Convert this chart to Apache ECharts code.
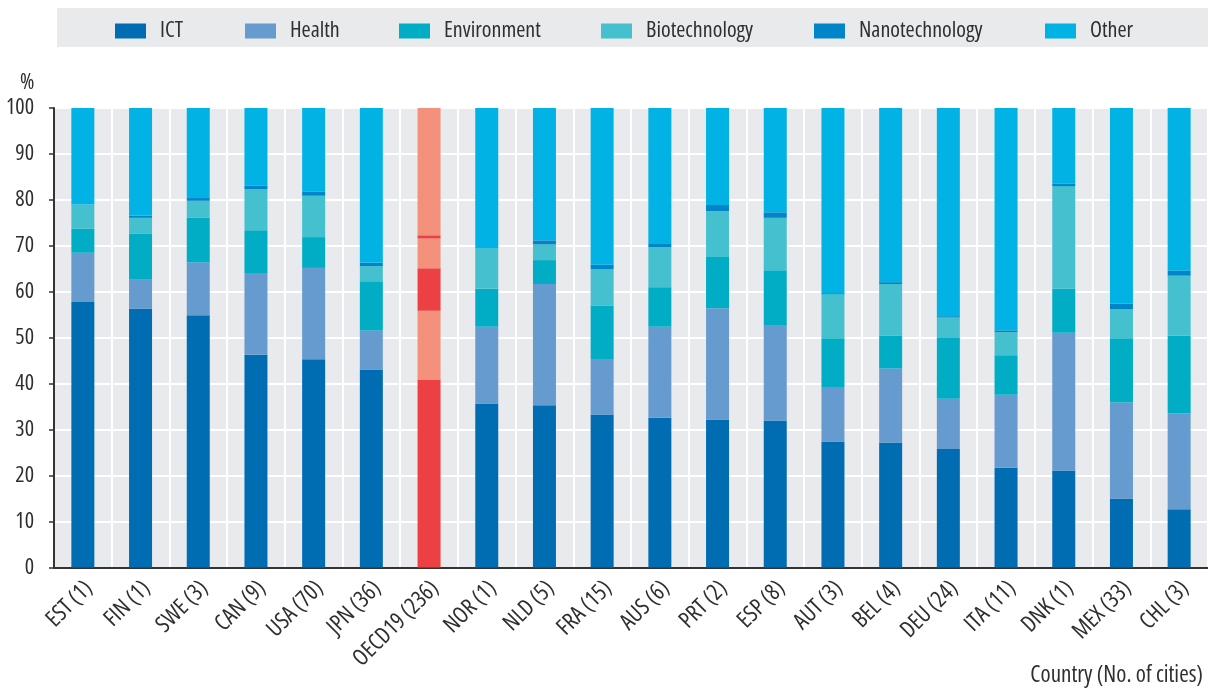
<!DOCTYPE html>
<html>
<head>
<meta charset="utf-8">
<script src="https://cdn.jsdelivr.net/npm/echarts@6/dist/echarts.min.js"></script>
<style>
  html, body { margin: 0; padding: 0; background: #fff; }
  #chart { width: 1208px; height: 690px; }
</style>
</head>
<body>
<div id="chart"></div>
<script>
var countries = ['EST (1)', 'FIN (1)', 'SWE (3)', 'CAN (9)', 'USA (70)', 'JPN (36)', 'OECD19 (236)',
    'NOR (1)', 'NLD (5)', 'FRA (15)', 'AUS (6)', 'PRT (2)', 'ESP (8)', 'AUT (3)', 'BEL (4)',
    'DEU (24)', 'ITA (11)', 'DNK (1)', 'MEX (33)', 'CHL (3)'];

var ict     = [57.8, 56.3, 54.9, 46.3, 45.3, 43.1, 40.9, 35.7, 35.3, 33.3, 32.6, 32.2, 32.0, 27.4, 27.2, 25.8, 21.7, 21.1, 15.0, 12.7];
var health  = [10.7, 6.3, 11.5, 17.8, 19.9, 8.5, 15.0, 16.7, 26.4, 11.9, 19.8, 24.2, 20.6, 11.9, 16.1, 10.9, 15.9, 30.0, 20.9, 20.8];
var env     = [5.2, 10.0, 9.7, 9.3, 6.7, 10.7, 9.2, 8.3, 5.2, 11.8, 8.6, 11.2, 12.1, 10.6, 7.2, 13.4, 8.6, 9.6, 14.0, 17.0];
var biotech = [5.3, 3.5, 3.7, 8.9, 9.0, 3.3, 6.5, 8.8, 3.4, 7.9, 8.7, 9.9, 11.4, 9.6, 11.2, 4.3, 5.0, 22.3, 6.3, 13.0];
var nano    = [0, 0.5, 0.6, 0.8, 0.9, 0.7, 0.7, 0, 0.9, 1.0, 0.7, 1.4, 1.2, 0.2, 0.4, 0.3, 0.4, 0.6, 1.2, 1.1];
var other   = [21.0, 23.4, 19.6, 16.9, 18.2, 33.7, 27.7, 30.5, 28.8, 34.1, 29.6, 21.1, 22.7, 40.3, 37.9, 45.3, 48.4, 16.4, 42.6, 35.4];

var seriesNames = ['ICT', 'Health', 'Environment', 'Biotechnology', 'Nanotechnology', 'Other'];
var seriesData = [ict, health, env, biotech, nano, other];
var colors = ['#006db2', '#669bcf', '#00adc4', '#45c0cf', '#0085c9', '#00b3e4'];
// OECD average bar is drawn in alternating reds
var oecdColors = ['#ec4043', '#f4917a', '#ec4043', '#f4917a', '#ec4043', '#f4917a'];
var oecdIndex = 6;
var legendLeft = [115, 245, 399, 601, 814, 1045];

var fontFamily = "'Open Sans'";
var fontStretch = 'condensed'; // goes into the canvas font string
var fontSize = 22;
var textColor = '#2f2f2f';

var myChart = echarts.init(document.getElementById('chart'));

var series = seriesNames.map(function (name, s) {
    return {
        name: name,
        type: 'bar',
        stack: 'total',
        barWidth: 23,
        itemStyle: { color: colors[s] },
        data: seriesData[s].map(function (v, i) {
            if (i === oecdIndex) {
                return { value: v, itemStyle: { color: oecdColors[s] } };
            }
            return v;
        })
    };
});

var legends = seriesNames.map(function (name, s) {
    return {
        left: legendLeft[s],
        top: 20,
        padding: 0,
        itemWidth: 31,
        itemHeight: 15,
        icon: 'rect',
        selectedMode: false,
        textStyle: { fontFamily: fontFamily, fontWeight: fontStretch, fontSize: fontSize, color: textColor, padding: [0, 0, 0, 9] },
        data: [name]
    };
});

var option = {
    animation: false,
    color: colors,
    graphic: [
        { type: 'rect', z: -10, shape: { x: 57, y: 8, width: 1151, height: 39 }, style: { fill: '#e9eaec' } },
        { type: 'text', left: 20, top: 72, style: { text: '%', font: 'condensed 22px ' + fontFamily, fill: textColor } },
        { type: 'text', right: 5, top: 664, style: { text: 'Country (No. of cities)', font: 'condensed 23px ' + fontFamily, fill: textColor } }
    ],
    legend: legends,
    grid: {
        left: 54,
        top: 108,
        width: 1160,
        height: 459.5,
        backgroundColor: '#e9eaed',
        show: true,
        borderWidth: 0
    },
    xAxis: {
        type: 'category',
        data: countries,
        axisLine: { lineStyle: { color: '#333', width: 2 } },
        axisTick: { inside: true, length: 5, lineStyle: { color: '#333', width: 1.5 } },
        splitLine: { show: true, interval: 0, lineStyle: { color: '#fff', width: 2 } },
        axisLabel: {
            interval: 0,
            rotate: 45,
            margin: 7,
            verticalAlign: 'top',
            padding: [0, 3, 0, 0],
            fontFamily: fontFamily,
            fontWeight: fontStretch,
            fontSize: 23,
            color: textColor
        }
    },
    yAxis: {
        type: 'value',
        min: 0,
        max: 100,
        interval: 10,
        axisLine: { show: true, lineStyle: { color: '#333', width: 2 } },
        axisTick: { show: true, length: 5, lineStyle: { color: '#333', width: 1.5 } },
        splitLine: { show: true, lineStyle: { color: '#fff', width: 2 } },
        axisLabel: { margin: 20, fontFamily: fontFamily, fontWeight: fontStretch, fontSize: fontSize, color: textColor }
    },
    series: series
};
myChart.setOption(option, true);
</script>
</body>
</html>
